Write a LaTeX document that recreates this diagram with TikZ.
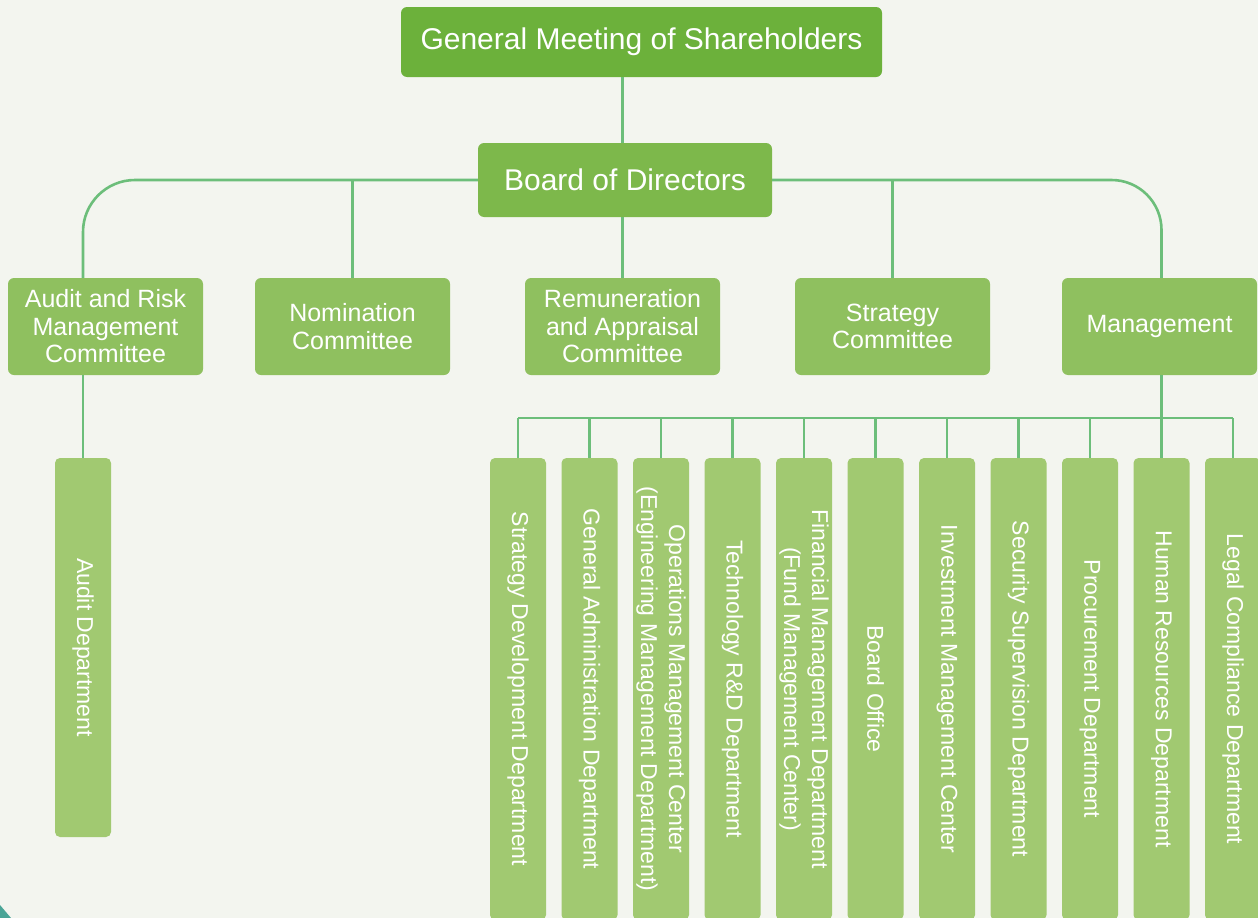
\documentclass[tikz,border=0pt]{standalone}
\usepackage{fontspec}
\setmainfont{Liberation Sans}
\usepackage{xcolor}

\begin{document}
\begin{tikzpicture}[x=1pt,y=-1pt,
  topBox/.style={rectangle,rounded corners=6pt,text=white,inner sep=0pt,
    font=\fontsize{30}{33}\selectfont},
  midBox/.style={rectangle,rounded corners=6pt,fill=midColor,text=white,inner sep=0pt,
    minimum width=195pt,minimum height=97pt,align=center,
    font=\fontsize{25}{27.5}\selectfont},
  deptBox/.style={rectangle,rounded corners=5pt,fill=deptColor,text=white,inner sep=0pt,
    rotate=-90,minimum width=462pt,minimum height=56pt,align=center,
    font=\fontsize{23}{28}\selectfont},
  link/.style={draw=lineColor,line width=2.6pt}]
\definecolor{bgColor}{RGB}{243,245,239}
\definecolor{gmsColor}{RGB}{108,177,59}
\definecolor{bodColor}{RGB}{125,184,75}
\definecolor{midColor}{RGB}{143,192,95}
\definecolor{deptColor}{RGB}{161,201,113}
\definecolor{lineColor}{RGB}{108,190,122}
\definecolor{tealColor}{RGB}{74,165,151}
\path[use as bounding box,fill=bgColor] (0,0) rectangle (1258,918);
\clip (0,0) rectangle (1258,918);
\fill[tealColor] (0,905) -- (11,918) -- (0,918) -- cycle;

% top levels
\node[topBox,fill=gmsColor,minimum width=481pt,minimum height=70pt] (gms) at (641.5,42) {General Meeting of Shareholders};
\node[topBox,fill=bodColor,minimum width=294pt,minimum height=74pt] (bod) at (625,180) {Board of Directors};

% committees
\node[midBox] (aud) at (105.5,326.5) {Audit and Risk\\Management\\Committee};
\node[midBox] (nom) at (352.5,326.5) {Nomination\\Committee};
\node[midBox] (rem) at (622.5,326.5) {Remuneration\\and Appraisal\\Committee};
\node[midBox] (strat) at (892.5,326.5) {Strategy\\Committee};
\node[midBox] (mgmt) at (1159.5,326.5) {Management};

% departments
\node[deptBox,minimum width=379pt] (auddept) at (83,647.5) {Audit Department};
\node[deptBox] (d1) at (518,689) {Strategy Development Department};
\node[deptBox] (d2) at (589.5,689) {General Administration Department};
\node[deptBox] (d3) at (661,689) {Operations Management Center\\(Engineering Management Department)};
\node[deptBox] (d4) at (732.5,689) {Technology R\&D Department};
\node[deptBox] (d5) at (804,689) {Financial Management Department\\(Fund Management Center)};
\node[deptBox] (d6) at (875.5,689) {Board Office};
\node[deptBox] (d7) at (947,689) {Investment Management Center};
\node[deptBox] (d8) at (1018.5,689) {Security Supervision Department};
\node[deptBox] (d9) at (1090,689) {Procurement Department};
\node[deptBox] (d10) at (1161.5,689) {Human Resources Department};
\node[deptBox] (d11) at (1233,689) {Legal Compliance Department};
\coordinate (bus) at (0,418);

% connectors
\draw[link] (rem.north |- gms.south) -- (rem.north |- bod.north);
\draw[link] (rem.north |- bod.south) -- (rem.north);
\draw[link,rounded corners=52pt] (bod.west) -| (auddept.west |- aud.north);
\draw[link,rounded corners=50pt] (bod.east) -| (d10.west |- mgmt.north);
\draw[link] (nom.north) -- (nom.north |- bod.west);
\draw[link] (strat.north) -- (strat.north |- bod.east);
\draw[link] (aud.south -| auddept.west) -- (auddept.west);
\draw[link] (mgmt.south -| d10.west) -- (d10.west);
\draw[link] (d1.west |- bus) -- (d11.west |- bus);
\draw[link] (d1.west |- bus) -- (d1.west);
\draw[link] (d2.west |- bus) -- (d2.west);
\draw[link] (d3.west |- bus) -- (d3.west);
\draw[link] (d4.west |- bus) -- (d4.west);
\draw[link] (d5.west |- bus) -- (d5.west);
\draw[link] (d6.west |- bus) -- (d6.west);
\draw[link] (d7.west |- bus) -- (d7.west);
\draw[link] (d8.west |- bus) -- (d8.west);
\draw[link] (d9.west |- bus) -- (d9.west);
\draw[link] (d11.west |- bus) -- (d11.west);
\end{tikzpicture}
\end{document}
